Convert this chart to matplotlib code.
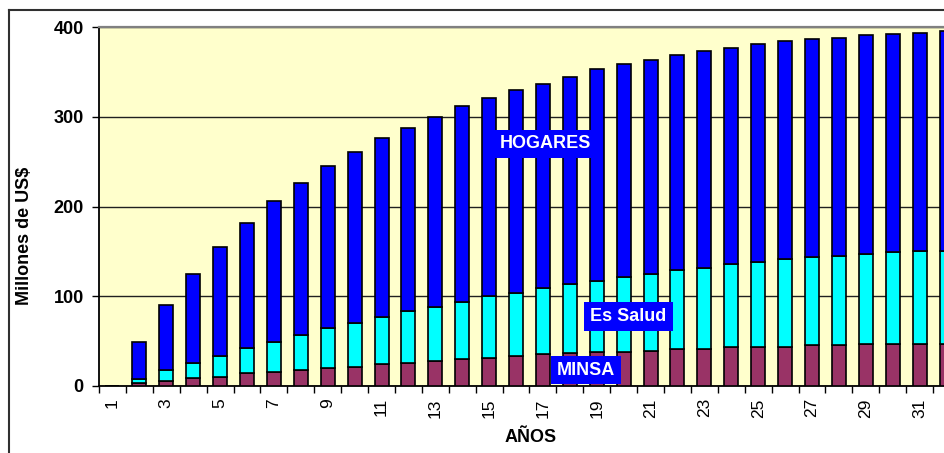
import numpy as np
import matplotlib
matplotlib.use("Agg")
import matplotlib.pyplot as plt
from matplotlib.lines import Line2D

plt.rcParams['font.family'] = ['Liberation Sans', 'DejaVu Sans']

# years shown (the chart is cut at the right edge after year 32)
years = list(range(1, 33))
minsa = [0, 2.6, 5.6, 8.2, 10.0, 13.8, 15.6, 17.5, 19.7, 21.2, 23.8, 24.9, 27.5, 29.4,
         31.3, 33.5, 35.0, 36.0, 37.6, 37.6, 39.0, 41.3, 41.3, 42.8, 42.8, 42.8, 45.0,
         45.0, 46.9, 46.9, 46.9, 46.9]
essalud = [0, 5.4, 11.9, 17.5, 23.0, 28.6, 33.1, 39.1, 44.3, 48.4, 52.5, 58.8, 60.7, 64.0,
           68.4, 70.3, 74.4, 77.5, 79.6, 83.7, 85.7, 87.8, 90.4, 92.6, 94.9, 98.2, 98.3,
           99.7, 100.1, 101.9, 103.8, 103.8]
hogares = [0, 41.0, 72.5, 99.3, 122.0, 139.6, 157.3, 169.4, 181.0, 191.4, 199.7, 204.3,
           211.8, 218.6, 221.3, 226.2, 227.6, 231.5, 235.8, 237.7, 238.3, 239.9, 241.3,
           241.6, 243.3, 244.0, 243.7, 243.3, 244.0, 244.2, 243.3, 245.3]
y_ticks = [0, 100, 200, 300, 400]

x = np.array(years)
minsa = np.array(minsa)
essalud = np.array(essalud)
hogares = np.array(hogares)

fig = plt.figure(figsize=(9.45, 4.53), dpi=100)
ax = fig.add_axes([99 / 945, 67.3 / 453, 861 / 945, 358.4 / 453])
ax.set_facecolor('#FFFFCC')

w = 0.52
ax.bar(x, minsa, w, color='#993366', edgecolor='black', linewidth=1.2, zorder=3)
ax.bar(x, essalud, w, bottom=minsa, color='#00FFFF', edgecolor='black', linewidth=1.2, zorder=3)
ax.bar(x, hogares, w, bottom=minsa + essalud, color='#0000FF', edgecolor='black',
       linewidth=1.2, zorder=3)

ax.set_xlim(0.5, len(years) + 0.5)
ax.set_ylim(0, 400)

# gridlines
ax.set_yticks(y_ticks)
ax.yaxis.grid(True, color='#202020', linewidth=1.0, zorder=1)
ax.set_axisbelow(True)

ax.set_yticklabels([str(v) for v in y_ticks], fontsize=13, fontweight='bold')
ax.tick_params(axis='y', direction='out', length=5, width=1, pad=6)

# x labels on odd years, ticks between categories
ax.set_xticks(x[::2])
ax.set_xticklabels([str(v) for v in years[::2]], rotation=90, fontsize=12.5)
ax.set_xticks(np.arange(0.5, len(years) + 0.5, 1), minor=True)
ax.tick_params(axis='x', which='major', length=0, pad=9)
ax.tick_params(axis='x', which='minor', direction='out', length=5, width=1)

for s in ['left', 'bottom']:
    ax.spines[s].set_color('black')
    ax.spines[s].set_linewidth(1.3)
ax.spines['top'].set_color('#808080')
ax.spines['top'].set_linewidth(1.6)
ax.spines['right'].set_visible(False)

fig.text(25 / 945, 1 - 236 / 453, 'Millones de US$', rotation=90, ha='center', va='center',
         fontsize=13, fontweight='bold')
fig.text(531 / 945, 1 - 437 / 453, 'AÑOS', ha='center', va='center',
         fontsize=13, fontweight='bold')

# series labels
box = dict(boxstyle='square,pad=0.33', facecolor='#0000FF', edgecolor='none')
ax.text(17.08, 269.8, 'HOGARES', color='white', fontsize=13, fontweight='bold',
        ha='center', va='center', bbox=box, zorder=5)
ax.text(20.18, 77.2, 'Es Salud', color='white', fontsize=13, fontweight='bold',
        ha='center', va='center', bbox=box, zorder=5)
ax.text(18.6, 17.5, 'MINSA', color='white', fontsize=13, fontweight='bold',
        ha='center', va='center', bbox=box, zorder=5)

# chart area border (cut at right/bottom)
fig.add_artist(Line2D([9 / 945, 9 / 945], [0, 1 - 10 / 453], transform=fig.transFigure,
                      color='#303030', linewidth=1.5))
fig.add_artist(Line2D([9 / 945, 1], [1 - 10 / 453, 1 - 10 / 453], transform=fig.transFigure,
                      color='#303030', linewidth=1.5))

fig.savefig('out.png', dpi=100)
